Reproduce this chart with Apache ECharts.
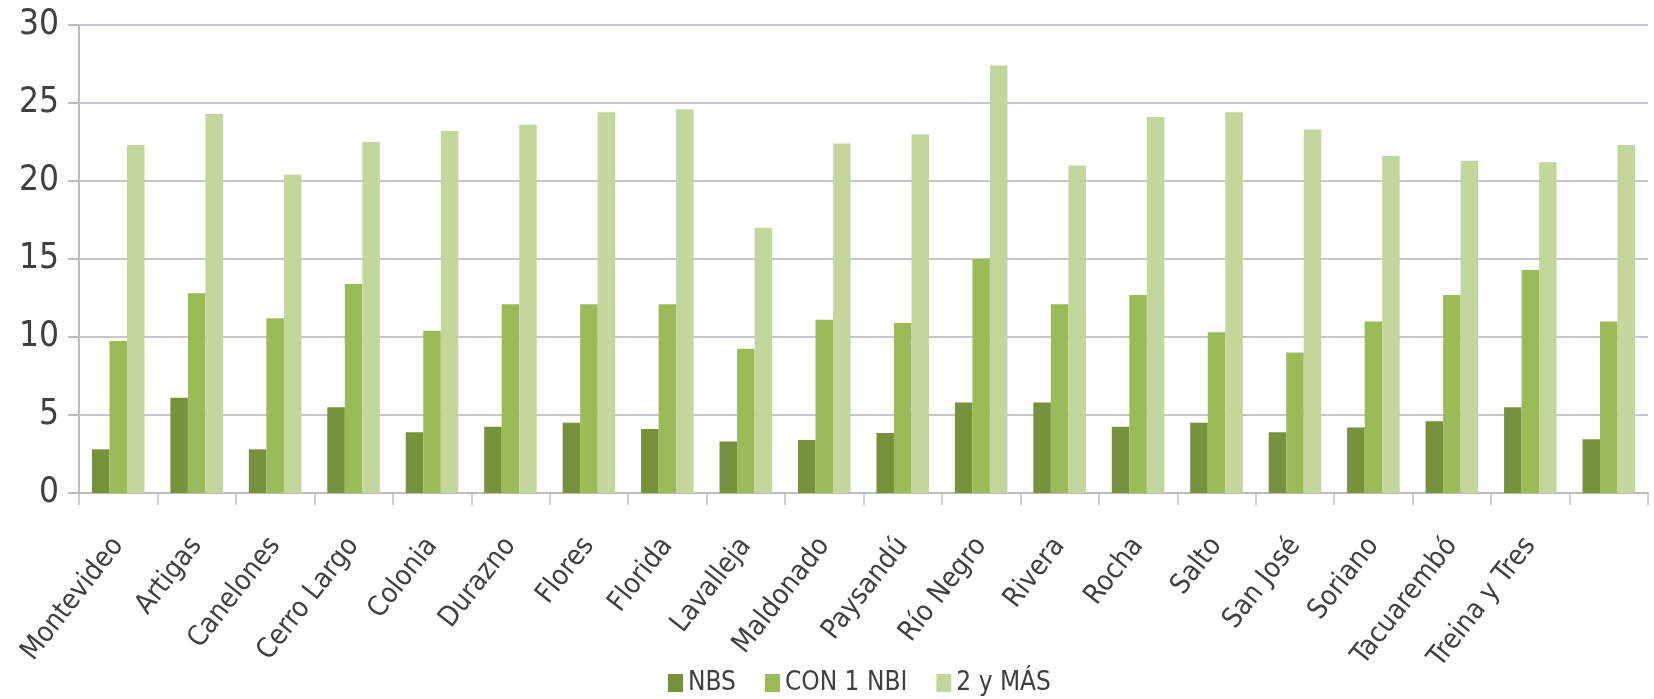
<!DOCTYPE html>
<html>
<head>
<meta charset="utf-8">
<script src="https://cdn.jsdelivr.net/npm/echarts@6/dist/echarts.min.js"></script>
<style>
html,body{margin:0;padding:0;background:#fff;}
#chart{width:1654px;height:699px;}
</style>
</head>
<body>
<div id="chart"></div>
<script>
const categories = ["Montevideo","Artigas","Canelones","Cerro Largo","Colonia","Durazno","Flores","Florida","Lavalleja","Maldonado","Paysandú","Río Negro","Rivera","Rocha","Salto","San José","Soriano","Tacuarembó","Treina y Tres",""];
const nbs      = [2.8, 6.1, 2.8, 5.5, 3.9, 4.25, 4.5, 4.1, 3.3, 3.4, 3.85, 5.8, 5.8, 4.25, 4.5, 3.9, 4.2, 4.6, 5.5, 3.45];
const con1nbi  = [9.75, 12.8, 11.2, 13.4, 10.4, 12.1, 12.1, 12.1, 9.25, 11.1, 10.9, 15.0, 12.1, 12.7, 10.3, 9.0, 11.0, 12.7, 14.3, 11.0];
const dosYMas  = [22.3, 24.3, 20.4, 22.5, 23.2, 23.6, 24.4, 24.6, 17.0, 22.4, 23.0, 27.4, 21.0, 24.1, 24.4, 23.3, 21.6, 21.3, 21.2, 22.3];
const yTicks = {min: 0, max: 30, interval: 5};
const seriesNames = ["NBS", "CON 1 NBI", "2 y MÁS"];
const colors = ["#76923c", "#9bbb59", "#c3d69b"];

const chart = echarts.init(document.getElementById('chart'));
const font = "'Liberation Sans Narrow', 'DejaVu Sans Condensed', 'Open Sans', sans-serif";
chart.setOption({
  animation: false,
  color: colors,
  grid: {left: 79, right: 6, top: 25, bottom: 206, containLabel: false},
  legend: {
    top: 665, left: 663,
    itemWidth: 15, itemHeight: 18, itemGap: 29,
    icon: 'rect',
    textStyle: {fontFamily: font, fontSize: 26, color: '#404040'},
    data: seriesNames
  },
  xAxis: {
    type: 'category',
    data: categories,
    axisLine: {lineStyle: {color: '#bdbdbd', width: 2}},
    axisTick: {show: true, alignWithLabel: false, length: 12, lineStyle: {color: '#bdbdbd', width: 1.5}},
    axisLabel: {interval: 0, rotate: 52, fontFamily: font, fontSize: 28, color: '#404040', margin: 48}
  },
  yAxis: {
    type: 'value',
    min: yTicks.min, max: yTicks.max, interval: yTicks.interval,
    axisLine: {show: true, lineStyle: {color: '#bdbdbd', width: 2}},
    axisTick: {show: true, length: 11, lineStyle: {color: '#bdbdbd', width: 2}},
    splitLine: {lineStyle: {color: '#c6c6cc', width: 2}},
    axisLabel: {fontFamily: font, fontSize: 35, color: '#404040', margin: 20}
  },
  series: [
    {name: seriesNames[0], type: 'bar', data: nbs, barGap: '0%', barCategoryGap: '33%'},
    {name: seriesNames[1], type: 'bar', data: con1nbi, barGap: '0%', barCategoryGap: '33%'},
    {name: seriesNames[2], type: 'bar', data: dosYMas, barGap: '0%', barCategoryGap: '33%'}
  ]
});
</script>
</body>
</html>
